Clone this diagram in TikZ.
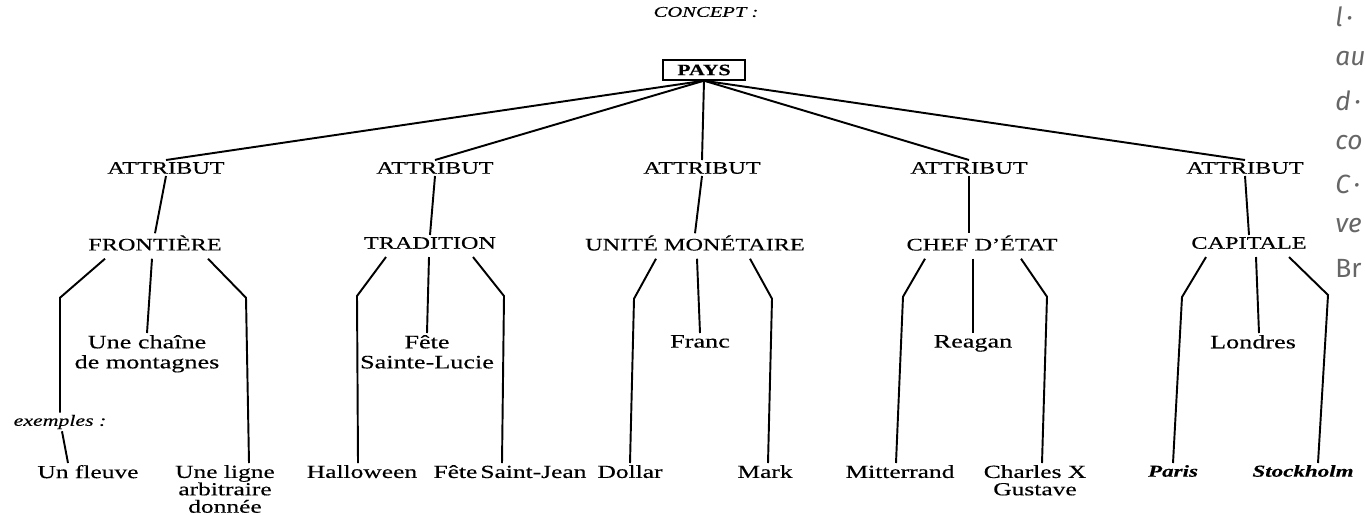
\documentclass[tikz,border=0pt]{standalone}
\usepackage{fontspec}
\setmainfont{Liberation Serif}[FakeStretch=1.38, FakeBold=0.35]
\newfontfamily\sidefont{Fira Sans}
\usepackage{tikz}
\usetikzlibrary{calc}
\definecolor{sidegray}{HTML}{666666}

\begin{document}
\begin{tikzpicture}[
  x=0.02cm, y=-0.02cm,
  lbl/.style={inner sep=1pt, align=center, font={\fontsize{10.8}{11.4}\selectfont}},
  attr/.style={lbl, font={\fontsize{10}{12}\selectfont}},
  leaf/.style={lbl, anchor=north, font={\fontsize{10.5}{9.9}\selectfont}},
  mid/.style={lbl, anchor=north},
  ex/.style={lbl, font={\fontsize{9}{11}\selectfont\itshape}},
  root/.style={draw, line width=0.8pt, inner sep=1pt, minimum width=1.64cm, minimum height=0.4cm, font={\fontsize{9}{10}\selectfont\bfseries}},
  side/.style={anchor=west, inner sep=0pt, text=sidegray, font={\fontsize{15}{16}\selectfont\sidefont}},
  link/.style={line width=1.1pt}
]
\useasboundingbox (0,0) rectangle (1365,514);

\node[ex, font={\fontsize{8.5}{10}\selectfont\itshape}] (concept) at (706,12) {CONCEPT :};
\node[root] (pays) at (704,70) {PAYS};

\node[attr] (a1) at (166,168) {ATTRIBUT};
\node[attr] (a2) at (435,168) {ATTRIBUT};
\node[attr] (a3) at (702,168) {ATTRIBUT};
\node[attr] (a4) at (969,168) {ATTRIBUT};
\node[attr] (a5) at (1245,168) {ATTRIBUT};

\node[attr] (c1) at (155,243) {FRONTIÈRE};
\node[attr] (c2) at (430,243) {TRADITION};
\node[attr] (c3) at (695,243) {UNITÉ MONÉTAIRE};
\node[attr] (c4) at (982,243) {CHEF D'ÉTAT};
\node[attr] (c5) at (1249,243) {CAPITALE};

\node[mid] (chaine) at (147,333) {Une chaîne\\de montagnes};
\node[mid] (lucie) at (427,333) {Fête\\Sainte-Lucie};
\node[mid] (franc) at (700,333) {Franc};
\node[mid] (reagan) at (973,333) {Reagan};
\node[mid] (londres) at (1253,333) {Londres};

\node[ex] (exemples) at (60,422) {exemples :};

\node[leaf] (fleuve) at (88,463) {Un fleuve};
\node[leaf] (ligne) at (225,463) {Une ligne\\arbitraire\\donnée};
\node[leaf] (hallo) at (362,463) {Halloween};
\node[leaf] (stjean) at (510,463) {Fête\,Saint-Jean};
\node[leaf] (dollar) at (630,463) {Dollar};
\node[leaf] (mark) at (765,463) {Mark};
\node[leaf] (mitt) at (900,463) {Mitterrand};
\node[leaf] (charles) at (1035,463) {Charles X\\Gustave};
\node[leaf, font={\fontsize{9.5}{11}\selectfont\bfseries\itshape}] (paris) at (1173,463) {Paris};
\node[leaf, font={\fontsize{9.5}{11}\selectfont\bfseries\itshape}] (stock) at (1303,463) {Stockholm};

\foreach \t [count=\i] in {l\kern2pt·,au,d\kern2pt·,co,C\kern2pt·,ve}
  \node[side, font={\fontsize{15}{16}\selectfont\sidefont\itshape}] (s\i) at (1335,{17+41.8*(\i-1)}) {\t};
\node[side] (s7) at (1335,268) {Br};

\foreach \a in {a1,a2,a3,a4,a5}
  \draw[link] (pays.south) -- (\a.north);

\draw[link] (a1.south) -- (c1.north);
\draw[link] (a2.south) -- (c2.north);
\draw[link] (a3.south) -- (c3.north);
\draw[link] (a4.south) -- (a4.south |- c4.north);
\draw[link] (a5.south) -- (c5.north);

\draw[link] ($(c1.south)+(-50,6)$) -- ++(-45,39) -- (exemples.north);
\draw[link] ($(c1.south)+(-3,6)$) -- (chaine.north);
\draw[link] ($(c1.south)+(53,6)$) -- ++(38,39) -- ($(ligne.north)+(24,0)$);
\draw[link] ($(exemples.south)+(2,0)$) -- ($(fleuve.north)+(-20,0)$);

\draw[link] ($(c2.south)+(-44,6)$) -- ++(-29,39) -- ($(hallo.north)+(-4,0)$);
\draw[link] ($(c2.south)+(-1,6)$) -- (lucie.north);
\draw[link] ($(c2.south)+(43,6)$) -- ++(31,39) -- ($(stjean.north)+(-8,0)$);

\draw[link] ($(c3.south)+(-39,6)$) -- ++(-22,40) -- (dollar.north);
\draw[link] ($(c3.south)+(2,6)$) -- (franc.north);
\draw[link] ($(c3.south)+(55,6)$) -- ++(22,40) -- ($(mark.north)+(3,0)$);

\draw[link] ($(c4.south)+(-57,6)$) -- ++(-22,38) -- ($(mitt.north)+(-4,0)$);
\draw[link] ($(c4.south)+(-9,6)$) -- (reagan.north);
\draw[link] ($(c4.south)+(39,6)$) -- ++(26,38) -- ($(charles.north)+(7,0)$);

\draw[link] ($(c5.south)+(-43,6)$) -- ++(-24,40) -- (paris.north);
\draw[link] ($(c5.south)+(7,6)$) -- ($(londres.north)+(6,0)$);
\draw[link] ($(c5.south)+(40,6)$) -- ++(39,38) -- ($(stock.north)+(15,0)$);
\end{tikzpicture}
\end{document}
